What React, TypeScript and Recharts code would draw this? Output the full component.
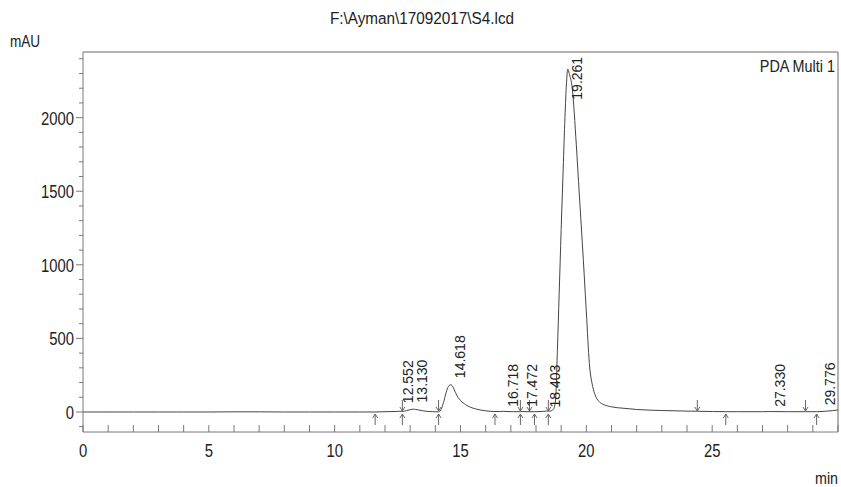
import React from 'react';
import { ComposedChart, Line, Scatter, XAxis, YAxis, ReferenceLine } from 'recharts';

// chromatogram trace (min, mAU)
const times = [
  0, 1, 2, 3, 4, 5, 6, 7, 8, 9, 10, 11, 11.6, 12.0, 12.4, 12.552, 12.7, 12.85, 13.0, 13.13,
  13.3, 13.5, 13.7, 13.9, 14.13, 14.25, 14.35, 14.45, 14.55, 14.618, 14.7, 14.8, 14.9, 15.0,
  15.2, 15.4, 15.6, 15.8, 16.0, 16.37, 16.6, 16.718, 16.85, 17.1, 17.38, 17.472, 17.6, 17.94,
  18.2, 18.403, 18.55, 18.7, 18.78, 18.85, 18.92, 19.0, 19.08, 19.15, 19.21, 19.261, 19.32,
  19.44, 19.6, 19.72, 19.84, 20.0, 20.12, 20.25, 20.35, 20.5, 20.7, 21.0, 21.5, 22, 23, 24,
  24.41, 25, 25.54, 26, 27, 27.33, 28, 28.71, 29.15, 29.5, 29.776, 30,
];
const signal = [
  0, 0, 0, 0, 0, 0, 1, 1, 0, 0, 0, 0, 0, 2, 3, 5, 4, 9, 16, 19,
  15, 8, 4, 2, 1, 25, 80, 145, 180, 185, 170, 132, 100, 78,
  50, 32, 21, 13, 8, 3, 3, 5, 3, 2, 2, 4, 2, 2,
  3, 6, 6, 20, 90, 420, 800, 1240, 1650, 2000, 2230, 2330, 2300,
  2200, 1820, 1480, 1150, 680, 330, 175, 115, 72, 50, 35, 25, 17, 10, 6,
  5, 3, 2, 2, 2, 3, 2, 2, 2, 5, 9, 14,
];

// peak annotations
const peakTimes = [12.552, 13.13, 14.618, 16.718, 17.472, 18.403, 19.261, 27.33, 29.776];
const peakNames = ['12.552', '13.130', '14.618', '16.718', '17.472', '18.403', '19.261', '27.330', '29.776'];
const peakLabelLevel = [60, 65, 230, 35, 35, 30, 2122, 35, 45];

// integration markers
const startMarks = [11.61, 12.69, 14.13, 16.37, 17.38, 17.94, 18.49, 25.54, 29.15];
const endMarks = [12.69, 14.13, 17.38, 17.74, 18.49, 24.41, 28.71];

const xTicks = [0, 1, 2, 3, 4, 5, 6, 7, 8, 9, 10, 11, 12, 13, 14, 15, 16, 17, 18, 19, 20, 21, 22, 23, 24, 25, 26, 27, 28, 29, 30];
const xLabelTicks = [0, 5, 10, 15, 20, 25];
const yTicks = [-100, 0, 100, 200, 300, 400, 500, 600, 700, 800, 900, 1000, 1100, 1200, 1300, 1400, 1500, 1600, 1700, 1800, 1900, 2000, 2100, 2200, 2300, 2400];
const yLabelTicks = [0, 500, 1000, 1500, 2000];

const data = times.map((t, i) => ({ t, mAU: signal[i] }));
const labelData = peakTimes.map((t, i) => ({ t, v: peakLabelLevel[i], name: peakNames[i] }));
const startData = startMarks.map((t) => ({ t, v: 0 }));
const endData = endMarks.map((t) => ({ t, v: 0 }));

const font = '"Liberation Sans", Arial, sans-serif';
const axisColor = '#7a7a7a';
const textColor = '#222';
const traceColor = '#444';

const YTick = (props: any) => {
  const { x, y, payload } = props;
  const major = yLabelTicks.includes(payload.value);
  return (
    <g>
      <line x1={x - (major ? 7 : 4)} x2={x} y1={y} y2={y} stroke={axisColor} />
      {major && (
        <g transform={`translate(${x - 9},${y + 7}) scale(0.78,1)`}>
          <text textAnchor="end" fontSize={19} fontFamily={font} fill={textColor}>{payload.value}</text>
        </g>
      )}
    </g>
  );
};

const XTick = (props: any) => {
  const { x, y, payload } = props;
  return (
    <g>
      <line x1={x} x2={x} y1={y} y2={y - 7} stroke={axisColor} />
      {xLabelTicks.includes(payload.value) && (
        <g transform={`translate(${x},${y + 25}) scale(0.78,1)`}>
          <text textAnchor="middle" fontSize={19} fontFamily={font} fill={textColor}>{payload.value}</text>
        </g>
      )}
    </g>
  );
};

// labels sit to the right of the peak, pulled inside the frame near the right edge
const PeakLabel = (props: any) => {
  const { cx, cy, payload } = props;
  const x = Math.min(cx + 14, 835);
  return (
    <text x={x} y={cy} transform={`rotate(-90 ${x} ${cy})`} fontSize={14} fontFamily={font} fill={textColor}>
      {payload.name}
    </text>
  );
};

const DownArrow = (props: any) => {
  const { cx, cy } = props;
  return (
    <g stroke="#666" fill="none" strokeWidth={1}>
      <line x1={cx} x2={cx} y1={cy - 12} y2={cy - 1} />
      <path d={`M${cx - 2.5},${cy - 5} L${cx},${cy - 1} L${cx + 2.5},${cy - 5}`} />
    </g>
  );
};

const UpArrow = (props: any) => {
  const { cx, cy } = props;
  return (
    <g stroke="#666" fill="none" strokeWidth={1}>
      <line x1={cx} x2={cx} y1={cy + 13} y2={cy + 2} />
      <path d={`M${cx - 2.5},${cy + 6} L${cx},${cy + 2} L${cx + 2.5},${cy + 6}`} />
    </g>
  );
};

export default function App() {
  return (
    <div style={{ position: 'absolute', left: 0, top: 0, width: 841, height: 487, background: '#fff' }}>
      <ComposedChart width={841} height={487} data={data} margin={{ top: 52, right: 3, bottom: 0, left: 0 }}>
        <XAxis
          dataKey="t"
          type="number"
          domain={[0, 30]}
          ticks={xTicks}
          interval={0}
          height={55}
          tickSize={0}
          tickMargin={0}
          tickLine={false}
          axisLine={{ stroke: axisColor }}
          tick={<XTick />}
          allowDataOverflow
        />
        <YAxis
          type="number"
          domain={[-136, 2446]}
          ticks={yTicks}
          interval={0}
          width={83}
          tickSize={0}
          tickMargin={0}
          tickLine={false}
          axisLine={{ stroke: axisColor }}
          tick={<YTick />}
          allowDataOverflow
        />
        <ReferenceLine y={2446} stroke="#9a9a9a" strokeWidth={1.5} />
        <ReferenceLine x={30} stroke="#9a9a9a" strokeWidth={1.5} />
        <Line type="monotone" dataKey="mAU" stroke={traceColor} strokeWidth={1} dot={false} isAnimationActive={false} />
        <Scatter data={endData} dataKey="v" shape={<DownArrow />} isAnimationActive={false} />
        <Scatter data={startData} dataKey="v" shape={<UpArrow />} isAnimationActive={false} />
        <Scatter data={labelData} dataKey="v" shape={<PeakLabel />} isAnimationActive={false} />
      </ComposedChart>
      <svg width={841} height={487} style={{ position: 'absolute', left: 0, top: 0, pointerEvents: 'none' }}>
        <g transform="translate(422,24) scale(0.9,1)">
          <text textAnchor="middle" fontSize={17} fontFamily={font} fill={textColor}>F:\Ayman\17092017\S4.lcd</text>
        </g>
        <g transform="translate(10,47) scale(0.8,1)">
          <text fontSize={17} fontFamily={font} fill={textColor}>mAU</text>
        </g>
        <g transform="translate(835,72) scale(0.9,1)">
          <text textAnchor="end" fontSize={16} fontFamily={font} fill={textColor}>PDA Multi 1</text>
        </g>
        <g transform="translate(838,484) scale(0.84,1)">
          <text textAnchor="end" fontSize={17} fontFamily={font} fill={textColor}>min</text>
        </g>
      </svg>
    </div>
  );
}
